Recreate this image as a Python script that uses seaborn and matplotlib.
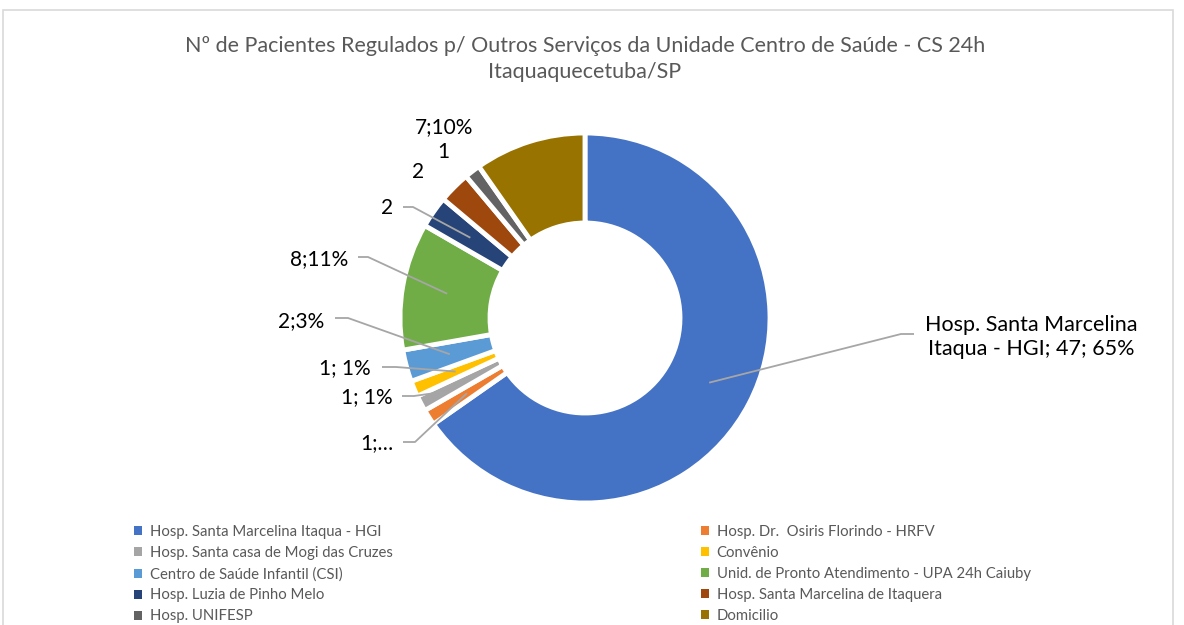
import numpy as np
import matplotlib
matplotlib.use("Agg")
import matplotlib.pyplot as plt
from matplotlib.patches import Patch, Rectangle
import seaborn as sns

categories = [
    "Hosp. Santa Marcelina Itaqua - HGI",
    "Hosp. Dr.  Osiris Florindo - HRFV",
    "Hosp. Santa casa de Mogi das Cruzes",
    "Convênio",
    "Centro de Saúde Infantil (CSI)",
    "Unid. de Pronto Atendimento - UPA 24h Caiuby",
    "Hosp. Luzia de Pinho Melo",
    "Hosp. Santa Marcelina de Itaquera",
    "Hosp. UNIFESP",
    "Domicilio",
]
values = [47, 1, 1, 1, 2, 8, 2, 2, 1, 7]
data_labels = [
    "Hosp. Santa Marcelina\nItaqua - HGI; 47; 65%",
    "1;…", "1; 1%", "1; 1%", "2;3%", "8;11%", "2", "2", "1", "7;10%",
]
title_text = ("Nº de Pacientes Regulados p/ Outros Serviços da Unidade Centro de Saúde - CS 24h\n"
              "Itaquaquecetuba/SP")

colors = ["#4472C4", "#ED7D31", "#A5A5A5", "#FFC000", "#5B9BD5",
          "#70AD47", "#264478", "#9E480E", "#636363", "#997300"]

sns.set_theme(style="white")
plt.rcParams["font.family"] = ["Lato", "DejaVu Sans"]

W, H = 1184, 625
fig = plt.figure(figsize=(W / 100, H / 100), dpi=100)
ax = fig.add_axes([0, 0, 1, 1])

cx, cy_pix = 585, 318
cy = H - cy_pix
R = 185
ring = 90

wedges, _ = ax.pie(values, colors=colors, startangle=90, counterclock=False,
                   center=(cx, cy), radius=R,
                   wedgeprops=dict(width=ring, edgecolor="white", linewidth=3.5))
ax.set_xlim(0, W)
ax.set_ylim(0, H)
ax.set_aspect("equal")
ax.axis("off")

# frame
fig.patches.append(Rectangle((3 / W, -0.1), (1173 - 3) / W, (H - 10) / H + 0.1,
                             transform=fig.transFigure, fill=False,
                             edgecolor="#D9D9D9", linewidth=1.2))

# title
ax.text(cx, H - 59, title_text, ha="center", va="center", fontsize=15.5,
        color="#595959", linespacing=1.35)

# data labels: (text center px, leader elbow start px, elbow end px, anchor radius) -- layout
label_layout = [
    ((1031, 337), (914, 334), (901, 334), 140),
    ((377, 443), (403, 442), (415, 442), 140),
    ((367, 397), (402, 396), (414, 396), 160),
    ((345, 368), (382, 367), (396, 367), 140),
    ((301, 321), (335, 318), (348, 318), 140),
    ((319, 259), (358, 257), (368, 257), 140),
    ((387, 208), (403, 207), (413, 207), 140),
    ((418, 172), None, None, None),
    ((443, 152), None, None, None),
    ((444, 127), None, None, None),
]

for w, lab, (tc, p0, p1, rr) in zip(wedges, data_labels, label_layout):
    fs = 15.5 if "\n" in lab else 15
    ax.text(tc[0], H - tc[1], lab, ha="center", va="center", fontsize=fs,
            color="#000000", linespacing=1.25)
    if p0 is not None:
        mid = np.deg2rad((w.theta1 + w.theta2) / 2)
        ax_x = cx + rr * np.cos(mid)
        ax_y = cy + rr * np.sin(mid)
        ax.plot([p0[0], p1[0], ax_x], [H - p0[1], H - p1[1], ax_y],
                color="#A6A6A6", linewidth=1.3, solid_capstyle="butt", zorder=5)

# legend in two columns, row-major order
handles = [Patch(facecolor=c, edgecolor="none") for c in colors]
leg_kw = dict(frameon=False, fontsize=10.7, handlelength=0.55, handleheight=0.55,
              handletextpad=0.5, labelspacing=0.47, borderaxespad=0, borderpad=0,
              labelcolor="#595959")
left_idx = [0, 2, 4, 6, 8]
right_idx = [1, 3, 5, 7, 9]
leg1 = ax.legend([handles[i] for i in left_idx], [categories[i] for i in left_idx],
                 loc="upper left", bbox_to_anchor=(134 / W, 1 - 525 / H), **leg_kw)
ax.add_artist(leg1)
leg2 = ax.legend([handles[i] for i in right_idx], [categories[i] for i in right_idx],
                 loc="upper left", bbox_to_anchor=(701 / W, 1 - 525 / H), **leg_kw)

fig.savefig("out.png", dpi=100)
